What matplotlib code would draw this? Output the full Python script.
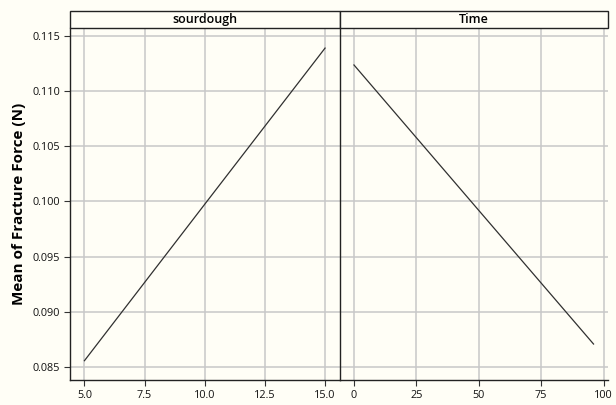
import matplotlib.pyplot as plt
from matplotlib.patches import Rectangle

# main effects data
sourdough_levels = [5.0, 10.0, 15.0]
sourdough_means = [0.08557, 0.09975, 0.1139]
time_levels = [0, 48, 96]
time_means = [0.11237, 0.09972, 0.08708]

sourdough_ticks = [5.0, 7.5, 10.0, 12.5, 15.0]
sourdough_labels = ["5.0", "7.5", "10.0", "12.5", "15.0"]
time_ticks = [0, 25, 50, 75, 100]
y_ticks = [0.085, 0.090, 0.095, 0.100, 0.105, 0.110, 0.115]
panel_titles = ["sourdough", "Time"]
y_title = "Mean of Fracture Force (N)"

bg = "#fffef6"
grid_col = "#c8c8c8"
plt.rcParams['font.family'] = ['Open Sans', 'DejaVu Sans']

fig = plt.figure(figsize=(6.16, 4.05), dpi=100, facecolor=bg)

W, H = 616.0, 405.0
left, mid, right = 70 / W, 339.5 / W, 608 / W
bottom, top = 1 - 380 / H, 1 - 28 / H
head_h = 17 / H

ax1 = fig.add_axes([left, bottom, mid - left, top - bottom])
ax2 = fig.add_axes([mid, bottom, right - mid, top - bottom], sharey=ax1)

panels = [
    (ax1, sourdough_levels, sourdough_means, sourdough_ticks, sourdough_labels, (4.4, 15.6)),
    (ax2, time_levels, time_means, time_ticks, [str(t) for t in time_ticks], (-5.8, 101.8)),
]

for i, (ax, xs, ys, ticks, labels, xlim) in enumerate(panels):
    ax.set_facecolor(bg)
    ax.plot(xs, ys, color="#303030", lw=0.9)
    ax.set_xlim(*xlim)
    ax.set_xticks(ticks)
    ax.set_xticklabels(labels)
    ax.set_ylim(0.08382, 0.11572)
    ax.set_yticks(y_ticks)
    ax.grid(True, color=grid_col, lw=1.1)
    ax.set_axisbelow(True)
    ax.tick_params(labelsize=7.8, length=4, width=0.8, color="#333333", pad=3,
                   labelcolor="#111111")
    for s in ["top", "right"]:
        ax.spines[s].set_visible(False)
    ax.spines["left"].set_color("#222222")
    ax.spines["bottom"].set_color("#222222")
    ax.spines["left"].set_linewidth(1.0)
    ax.spines["bottom"].set_linewidth(1.0)

    # strip header above the panel
    x0 = left if i == 0 else mid
    x1 = mid if i == 0 else right
    fig.patches.append(Rectangle((x0, top), x1 - x0, head_h, transform=fig.transFigure,
                                 facecolor=bg, edgecolor="#222222", lw=1.0))
    fig.text((x0 + x1) / 2, top + head_h / 2, panel_titles[i], ha="center", va="center",
             fontsize=9, fontweight="semibold")

ax1.set_yticklabels(["%.3f" % v for v in y_ticks])
ax2.tick_params(axis="y", left=False, labelleft=False)
ax1.set_ylabel(y_title, fontsize=11, fontweight="bold", labelpad=5)

fig.savefig("out.png", dpi=100, facecolor=bg)
